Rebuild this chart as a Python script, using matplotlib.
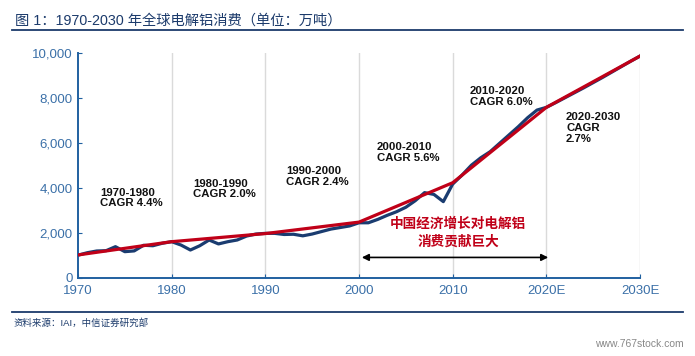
import matplotlib
matplotlib.use("Agg")
import matplotlib.pyplot as plt

plt.rcParams['font.family'] = ['Liberation Sans', 'Noto Sans CJK SC', 'DejaVu Sans']

# actual + forecast consumption, 10k tonnes
years = list(range(1970, 2031))
consumption = [1000, 1110, 1186, 1200, 1378, 1156, 1190, 1440, 1420, 1530,
               1600, 1450, 1230, 1420, 1675, 1500, 1600, 1675, 1850, 1940,
               1970, 1970, 1920, 1930, 1860, 1940, 2050, 2160, 2230, 2300,
               2440, 2440, 2590, 2770, 2930, 3130, 3420, 3780, 3700, 3380,
               4160, 4560, 5000, 5330, 5600, 5970, 6340, 6710, 7110, 7450,
               7570, 7780, 8000, 8220, 8440, 8670, 8900, 9140, 9380, 9620,
               9850]

# decade trend (CAGR) line
trend_years = [1970, 1980, 1990, 2000, 2010, 2020, 2030]
trend_values = [1010, 1600, 1960, 2470, 4220, 7570, 9850]

xtick_pos = [1970, 1980, 1990, 2000, 2010, 2020, 2030]
xtick_labels = ['1970', '1980', '1990', '2000', '2010', '2020E', '2030E']
ytick_pos = [0, 2000, 4000, 6000, 8000, 10000]

cagr_labels = ['1970-1980\nCAGR 4.4%', '1980-1990\nCAGR 2.0%', '1990-2000\nCAGR 2.4%',
               '2000-2010\nCAGR 5.6%', '2010-2020\nCAGR 6.0%', '2020-2030\nCAGR\n2.7%']
cagr_pos = [(1972.4, 4000), (1982.3, 4400), (1992.2, 4950),
             (2001.9, 6040), (2011.8, 8530), (2022.1, 7360)]

navy = '#1b3a6b'
axis_blue = '#2060a0'
tick_blue = '#3b70a8'
red = '#c00018'

fig = plt.figure(figsize=(6.95, 3.56), dpi=100)
ax = fig.add_axes([0.1122, 0.22, 0.8087, 0.632])

for x in xtick_pos[1:]:
    ax.axvline(x, color='#dadada', lw=1, zorder=0)

ax.plot(years, consumption, color='#1a3c70', lw=2.3, zorder=2)
ax.plot(trend_years, trend_values, color=red, lw=2.3, zorder=3)

ax.set_xlim(1970, 2030)
ax.set_ylim(0, 10000)
ax.set_xticks(xtick_pos)
ax.set_xticklabels(xtick_labels)
ax.set_yticks(ytick_pos)
ax.set_yticklabels([f'{v:,}' for v in ytick_pos])
ax.tick_params(direction='in', length=3, color=axis_blue, labelcolor=tick_blue,
               labelsize=9.5)
ax.tick_params(axis='y', pad=4)
ax.tick_params(axis='x', pad=5)
for s in ['top', 'right']:
    ax.spines[s].set_visible(False)
for s in ['left', 'bottom']:
    ax.spines[s].set_color(axis_blue)
    ax.spines[s].set_linewidth(1.4)

for txt, (x, y) in zip(cagr_labels, cagr_pos):
    ax.text(x, y, txt, fontsize=8.2, fontweight='bold', color='#111111',
            va='top', ha='left', linespacing=1.1)

ax.text(2010.6, 2000, '中国经济增长对电解铝\n消费贡献巨大', fontsize=9.8, fontweight='bold',
        color=red, ha='center', va='center', family=['Noto Sans CJK SC', 'DejaVu Sans'],
        linespacing=1.3)
ax.annotate('', xy=(2000.3, 900), xytext=(2020.2, 900),
            arrowprops=dict(arrowstyle='<|-|>', color='black', lw=1.2,
                            mutation_scale=10, shrinkA=0, shrinkB=0))

# header / footer
fig.text(0.022, 0.943, '图 1：1970-2030 年全球电解铝消费（单位：万吨）', fontsize=10.3,
         color=navy, ha='left', va='center')
fig.add_artist(plt.Line2D([0.017, 0.983], [0.917, 0.917], color=navy, lw=1.3))
fig.add_artist(plt.Line2D([0.017, 0.983], [0.124, 0.124], color=navy, lw=1.3))
fig.text(0.02, 0.092, '资料来源：IAI，中信证券研究部', fontsize=6.8, color=navy,
         ha='left', va='center')
fig.text(0.983, 0.033, 'www.767stock.com', fontsize=7.5, color='#888888',
         ha='right', va='center')

fig.savefig('out.png', dpi=100)
